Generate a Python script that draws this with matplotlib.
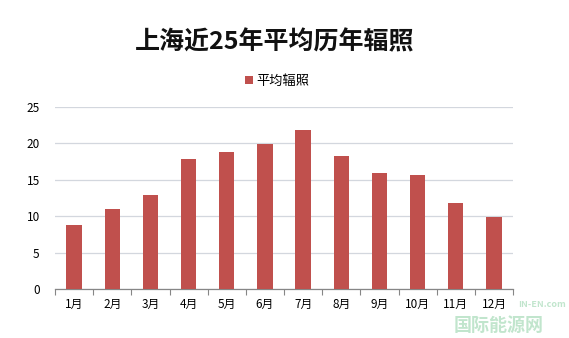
import numpy as np
from matplotlib import pyplot as plt

plt.rcParams['font.family'] = ['Noto Sans CJK SC', 'DejaVu Sans']

months = ['1月', '2月', '3月', '4月', '5月', '6月',
          '7月', '8月', '9月', '10月', '11月', '12月']
radiation = [8.9, 11.0, 12.9, 17.9, 18.9, 19.9, 21.9, 18.35, 15.9, 15.75, 11.9, 9.9]
yticks = [0, 5, 10, 15, 20, 25]

title = '上海近25年平均历年辐照'
series_name = '平均辐照'
bar_color = '#C0504D'


def main():
    fig = plt.figure(figsize=(5.69, 3.38), dpi=100)
    ax = fig.add_axes([0.0967, 0.1435, 0.805, 0.54])

    x = np.arange(len(months))
    ax.bar(x, radiation, width=0.4, color=bar_color, zorder=3, label=series_name)

    ax.set_xlim(-0.5, len(months) - 0.5)
    ax.set_ylim(0, 25)
    ax.set_yticks(yticks)
    ax.set_xticks(x)
    ax.set_xticklabels(months, fontsize=8.5)
    ax.set_xticks(np.arange(len(months) + 1) - 0.5, minor=True)
    ax.tick_params(axis='x', which='major', length=0, pad=6)
    ax.tick_params(axis='x', which='minor', length=4, color='#868686', width=0.8)
    ax.tick_params(axis='y', length=0, labelsize=8.5, pad=11)

    ax.grid(axis='y', color='#D3D7DE', linewidth=0.9, zorder=0)
    for side in ['top', 'right', 'left']:
        ax.spines[side].set_visible(False)
    ax.spines['bottom'].set_color('#868686')
    ax.spines['bottom'].set_linewidth(0.9)

    fig.text(0.482, 0.875, title, ha='center', va='center',
             fontsize=18, fontweight='bold', color='#111111')
    fig.legend(loc='center', bbox_to_anchor=(0.487, 0.76), frameon=False,
               fontsize=9.5, handlelength=0.6, handleheight=0.6,
               handletextpad=0.2, borderpad=0)

    # faint watermark in the corner
    fig.text(0.955, 0.01, '国际能源网', ha='right', va='bottom', fontsize=13,
             fontweight='bold', color='#8fd1a4', alpha=0.55)
    fig.text(0.995, 0.085, 'IN-EN.com', ha='right', va='bottom', fontsize=6.5,
             fontweight='bold', color='#8fd1a4', alpha=0.55)

    fig.savefig('out.png', dpi=100)
    plt.close(fig)


if __name__ == '__main__':
    main()
